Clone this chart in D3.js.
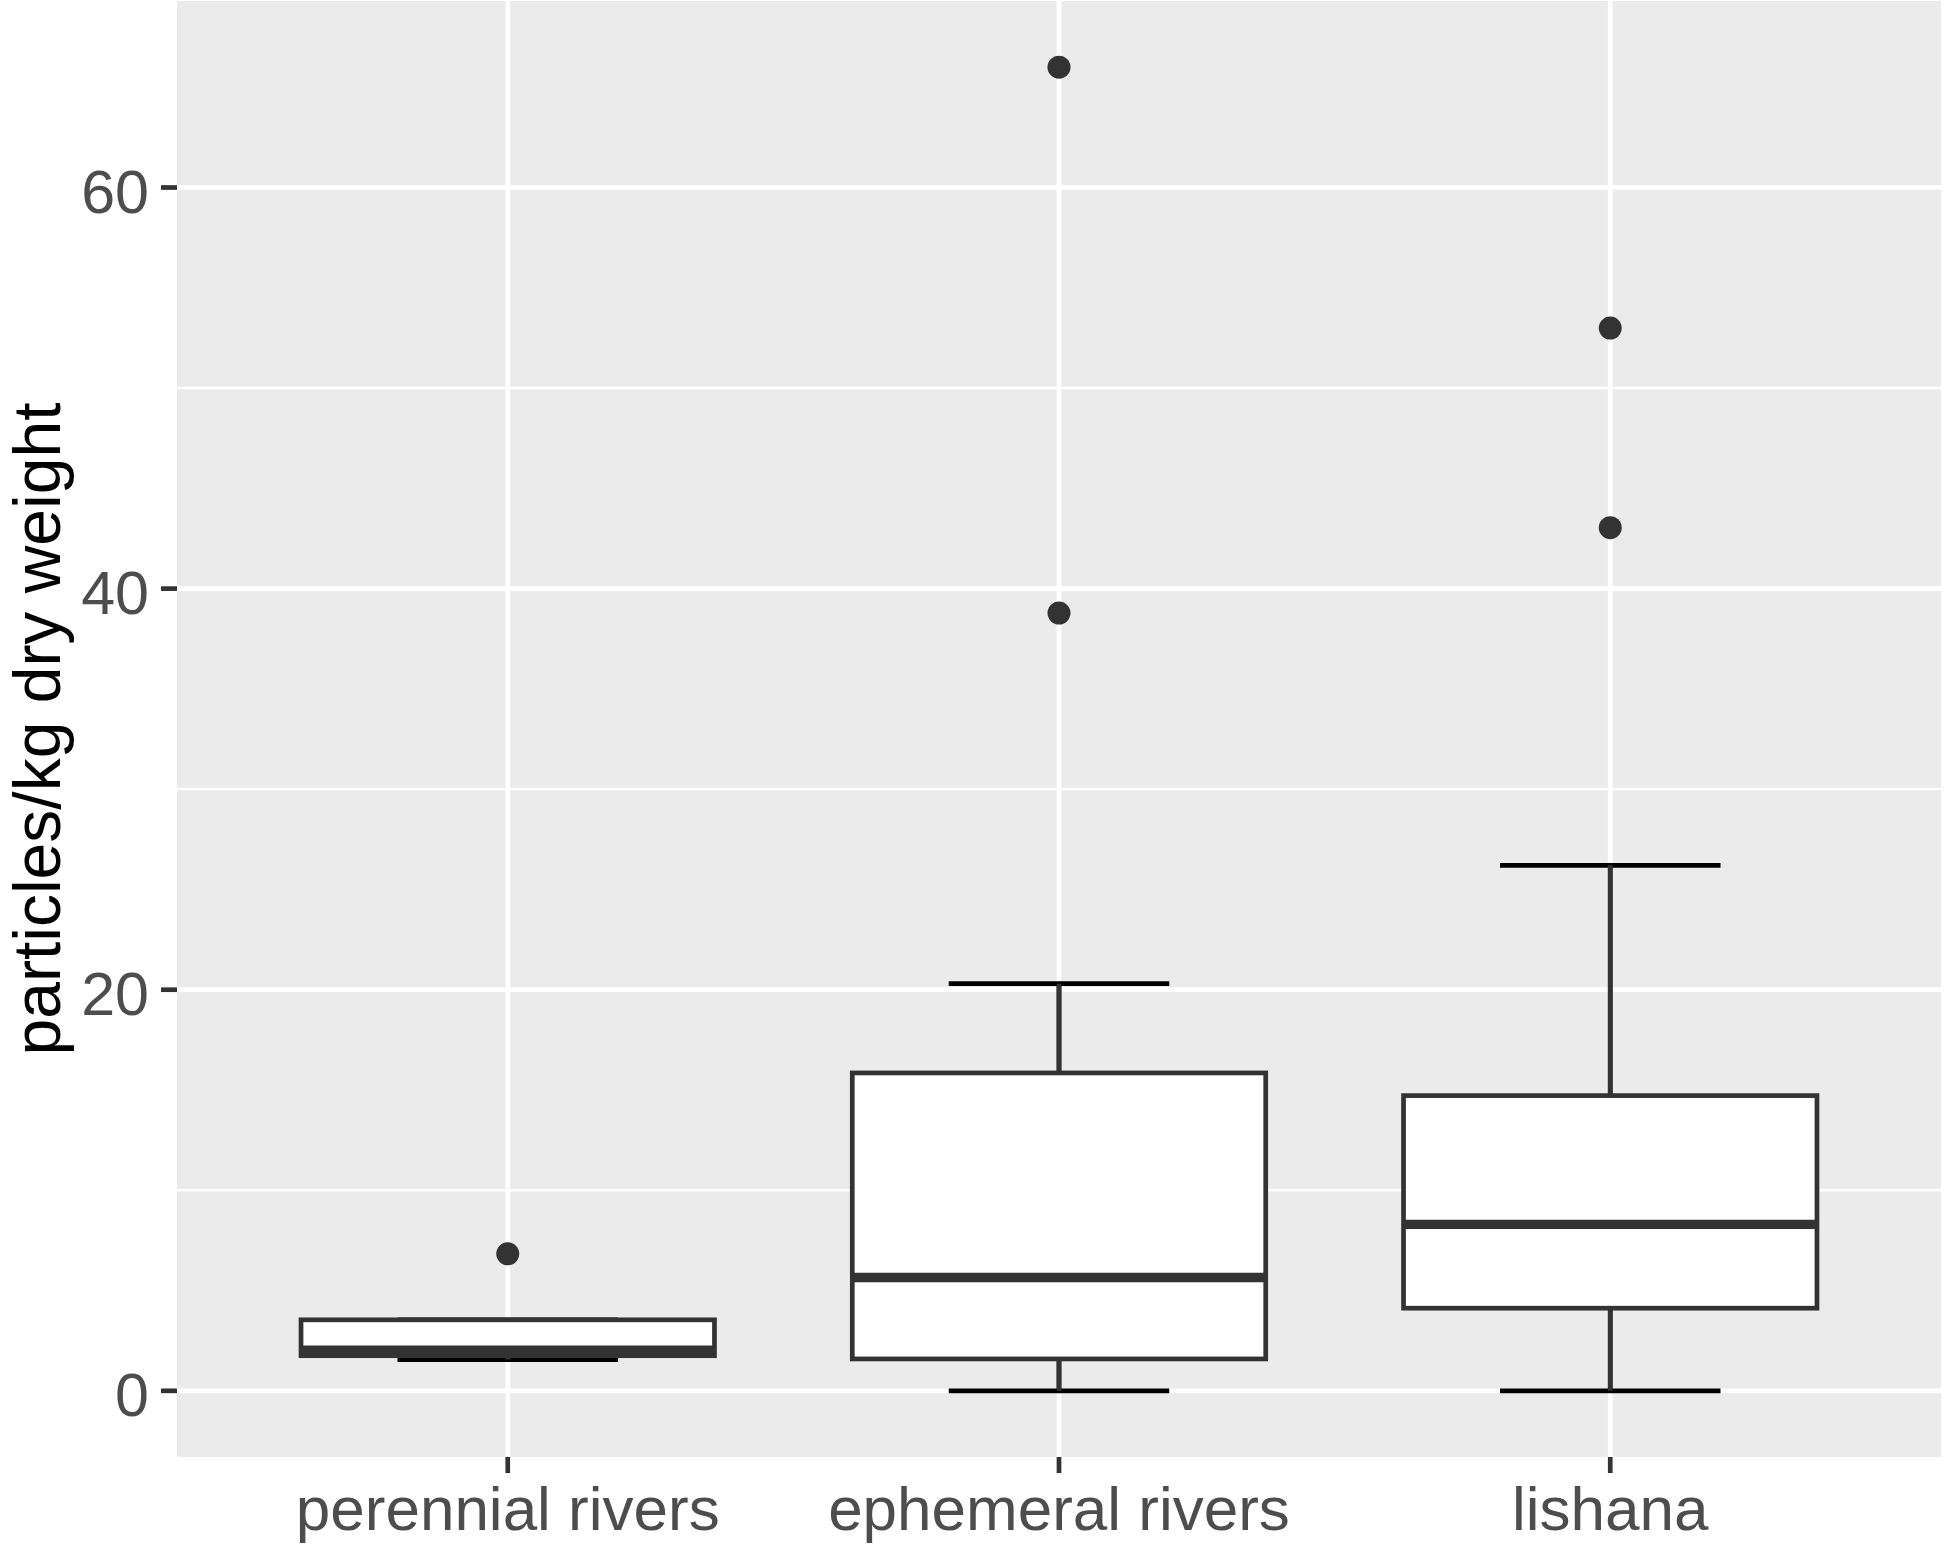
<!DOCTYPE html>
<html>
<head>
<meta charset="utf-8">
<script src="https://cdn.jsdelivr.net/npm/d3@7"></script>
<style>
  html, body { margin: 0; padding: 0; background: #ffffff; }
  svg { display: block; }
  text { font-family: "Liberation Sans", Arial, Helvetica, sans-serif; }
</style>
</head>
<body>
<svg id="chart" width="1944" height="1547"></svg>
<script>
// ---- data ----
const categories   = ["perennial rivers", "ephemeral rivers", "lishana"];
const whiskerLow   = [1.56, 0, 0];
const q1           = [1.75, 1.59, 4.12];
const medians      = [2.03, 5.65, 8.3];
const q3           = [3.54, 15.85, 14.72];
const whiskerHigh  = [3.54, 20.3, 26.2];
const outliers     = [[6.83], [66, 38.78], [52.99, 43.04]];
const yTicks       = [0, 20, 40, 60];
const yMinorTicks  = [10, 30, 50];
const yTitle       = "particles/kg dry weight";

// ---- layout ----
const W = 1944, H = 1547;
const panel = { left: 177, top: 1, right: 1941, bottom: 1457 };
const svg = d3.select("#chart");
svg.append("rect").attr("width", W).attr("height", H).attr("fill", "#ffffff");

const rows = categories.map((c, i) => ({
  cat: c, lo: whiskerLow[i], q1: q1[i], med: medians[i], q3: q3[i], hi: whiskerHigh[i], out: outliers[i]
}));

const allVals = rows.flatMap(d => [d.lo, d.hi, ...d.out]);
const yMin = d3.min(allVals), yMax = d3.max(allVals);
const pad = (yMax - yMin) * 0.05;
const y = d3.scaleLinear().domain([yMin - pad, yMax + pad]).range([panel.bottom, panel.top]);

// ggplot discrete expansion: 0.6 units on each side
const x = d3.scalePoint().domain(categories)
  .range([panel.left, panel.right]).padding(0.6);
const unit = x.step();
const xc = c => x(c);

// panel background
svg.append("rect")
  .attr("x", panel.left).attr("y", panel.top)
  .attr("width", panel.right - panel.left).attr("height", panel.bottom - panel.top)
  .attr("fill", "#EBEBEB");

const grid = svg.append("g");
grid.selectAll("line.minor").data(yMinorTicks).join("line")
  .attr("x1", panel.left).attr("x2", panel.right)
  .attr("y1", d => y(d)).attr("y2", d => y(d))
  .attr("stroke", "#ffffff").attr("stroke-width", 2.4);
grid.selectAll("line.major").data(yTicks).join("line")
  .attr("x1", panel.left).attr("x2", panel.right)
  .attr("y1", d => y(d)).attr("y2", d => y(d))
  .attr("stroke", "#ffffff").attr("stroke-width", 4.7);
grid.selectAll("line.vmajor").data(categories).join("line")
  .attr("x1", d => xc(d)).attr("x2", d => xc(d))
  .attr("y1", panel.top).attr("y2", panel.bottom)
  .attr("stroke", "#ffffff").attr("stroke-width", 4.7);

const boxW = unit * 0.75;
const capW = unit * 0.4;
const lineC = "#333333";
const lw = 4.7;

// error bar caps (drawn first, beneath boxes)
const caps = svg.append("g");
rows.forEach(d => {
  [d.lo, d.hi].forEach(v => {
    caps.append("line")
      .attr("x1", xc(d.cat) - capW / 2).attr("x2", xc(d.cat) + capW / 2)
      .attr("y1", y(v)).attr("y2", y(v))
      .attr("stroke", "#000000").attr("stroke-width", lw);
  });
  caps.append("line")
    .attr("x1", xc(d.cat)).attr("x2", xc(d.cat))
    .attr("y1", y(d.lo)).attr("y2", y(d.hi))
    .attr("stroke", "#000000").attr("stroke-width", lw);
});

const boxes = svg.append("g");
rows.forEach(d => {
  boxes.selectAll(null).data(d.out).join("circle")
    .attr("cx", xc(d.cat)).attr("cy", v => y(v)).attr("r", 11.5)
    .attr("fill", lineC);
});
rows.forEach(d => {
  boxes.append("line")
    .attr("x1", xc(d.cat)).attr("x2", xc(d.cat))
    .attr("y1", y(d.q3)).attr("y2", y(d.hi))
    .attr("stroke", lineC).attr("stroke-width", lw);
  boxes.append("line")
    .attr("x1", xc(d.cat)).attr("x2", xc(d.cat))
    .attr("y1", y(d.q1)).attr("y2", y(d.lo))
    .attr("stroke", lineC).attr("stroke-width", lw);
});
rows.forEach(d => {
  boxes.append("rect")
    .attr("x", xc(d.cat) - boxW / 2).attr("y", y(d.q3))
    .attr("width", boxW).attr("height", y(d.q1) - y(d.q3))
    .attr("fill", "#ffffff").attr("stroke", lineC).attr("stroke-width", lw);
  boxes.append("line")
    .attr("x1", xc(d.cat) - boxW / 2).attr("x2", xc(d.cat) + boxW / 2)
    .attr("y1", y(d.med)).attr("y2", y(d.med))
    .attr("stroke", lineC).attr("stroke-width", lw * 2);
});

// y axis ticks + labels
const yAx = svg.append("g");
yAx.selectAll("line").data(yTicks).join("line")
  .attr("x1", panel.left - 16).attr("x2", panel.left)
  .attr("y1", d => y(d)).attr("y2", d => y(d))
  .attr("stroke", lineC).attr("stroke-width", lw);
yAx.selectAll("text").data(yTicks).join("text")
  .attr("x", 149).attr("y", d => y(d) + 25)
  .attr("text-anchor", "end")
  .attr("font-size", 61).attr("fill", "#4D4D4D")
  .text(d => d3.format("d")(d));

// x axis ticks + labels
const xAx = svg.append("g");
xAx.selectAll("line").data(categories).join("line")
  .attr("x1", d => xc(d)).attr("x2", d => xc(d))
  .attr("y1", panel.bottom).attr("y2", panel.bottom + 16)
  .attr("stroke", lineC).attr("stroke-width", lw);
xAx.selectAll("text").data(categories).join("text")
  .attr("x", d => xc(d)).attr("y", 1530)
  .attr("text-anchor", "middle")
  .attr("font-size", 62).attr("fill", "#4D4D4D")
  .text(d => d);

// y title
svg.append("text")
  .attr("transform", `translate(60, ${(panel.top + panel.bottom) / 2}) rotate(-90)`)
  .attr("text-anchor", "middle")
  .attr("font-size", 66).attr("fill", "#000000")
  .text(yTitle);
</script>
</body>
</html>
